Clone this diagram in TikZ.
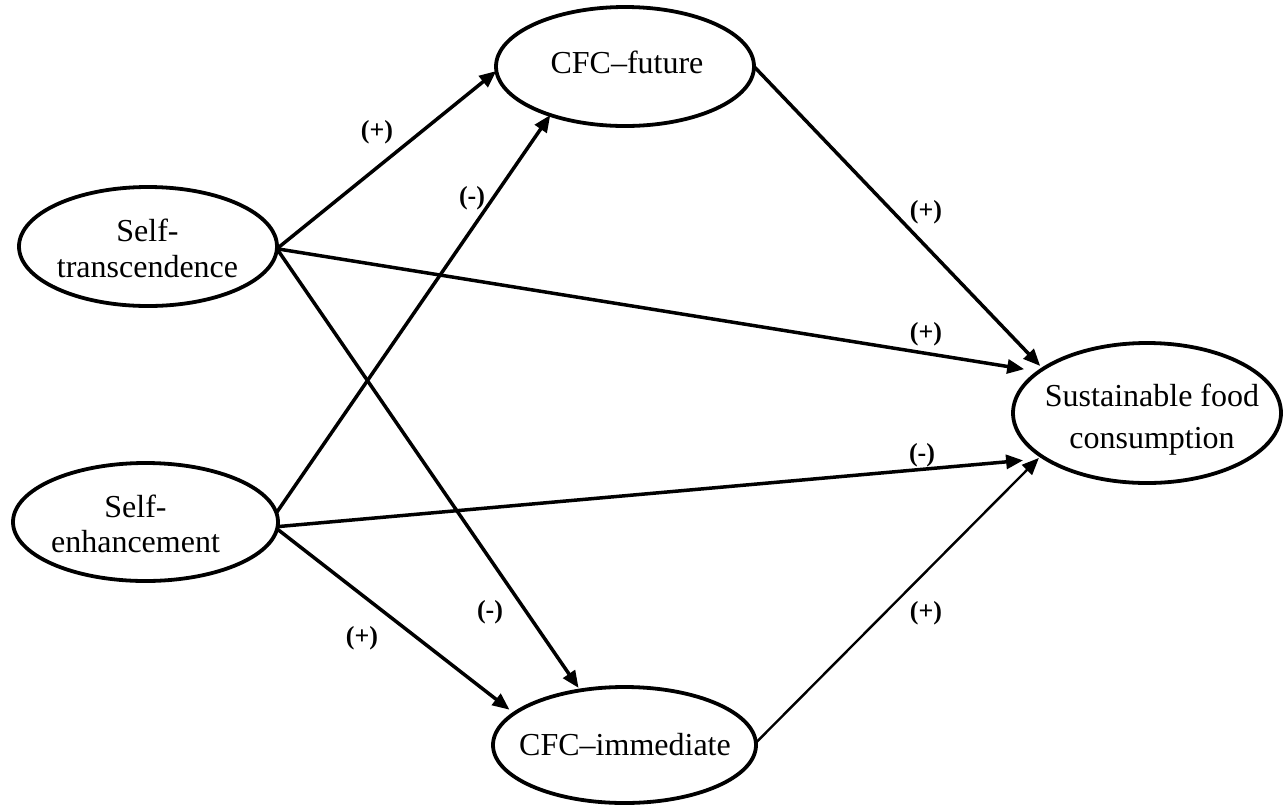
\documentclass[tikz,border=0pt]{standalone}
\usepackage{fontspec}
\setmainfont{Liberation Serif}
\usetikzlibrary{shapes.geometric,arrows.meta}
\begin{document}
\begin{tikzpicture}[x=1pt,y=-1pt,
  construct/.style={ellipse,draw,line width=3.8pt,inner sep=0pt,outer sep=0pt},
  caption/.style={font=\fontsize{32}{36}\selectfont,align=center,inner sep=0pt},
  link/.style={line width=3.5pt,-{Triangle[length=17pt,width=14pt]}},
  sign/.style={font=\fontsize{26}{30}\selectfont\bfseries,inner sep=0pt}]
\useasboundingbox (0,0) rectangle (1286,807);

% constructs
\node[construct,minimum width=258pt,minimum height=119pt] (fut) at (625,66.5) {};
\node[construct,minimum width=258pt,minimum height=119pt] (st)  at (148,246.5) {};
\node[construct,minimum width=265pt,minimum height=118pt] (se)  at (145.5,522) {};
\node[construct,minimum width=268pt,minimum height=140pt] (sfc) at (1147,413) {};
\node[construct,minimum width=263pt,minimum height=116pt] (imm) at (624.5,745) {};

% construct names
\node[caption,anchor=base] (futtext) at (627,73) {CFC–future};
\node[caption] (sttext) at (147.5,248.3) {Self-\\transcendence};
\node[caption,font=\fontsize{32}{35}\selectfont] (setext) at (135.5,523.8) {Self-\\enhancement};
\node[caption,font=\fontsize{32}{42}\selectfont] (sfctext) at (1152,419.6) {Sustainable food\\consumption};
\node[caption,anchor=base] (immtext) at (625,755) {CFC–immediate};

% paths
\draw[link] (st.-1.5) -- (fut.182.5);
\draw[link] (se.4) -- (fut.213.8);
\draw[link,shorten >=15pt] (st.-1.5) -- (sfc.159.6);
\draw[link,shorten >=4pt] (fut.0) -- (sfc.157);
\draw[link,shorten >=22pt] (se.-2.2) -- (sfc.204.5);
\draw[link,line width=2.4pt,shorten >=3pt] (imm.1) -- (sfc.202);
\draw[link,shorten >=3pt] (st.-1.5) -- (imm.129.2);
\draw[link,shorten >=6pt] (se.-3.5) -- (imm.164.8);

% signs of the effects
\node[sign] (s1) at (377,132) {(+)};
\node[sign] (s2) at (472,198) {(-)};
\node[sign] (s3) at (926,212) {(+)};
\node[sign] (s4) at (926,334) {(+)};
\node[sign] (s5) at (922,455) {(-)};
\node[sign] (s6) at (926,613) {(+)};
\node[sign] (s7) at (362,638) {(+)};
\node[sign] (s8) at (490,612) {(-)};
\end{tikzpicture}
\end{document}
